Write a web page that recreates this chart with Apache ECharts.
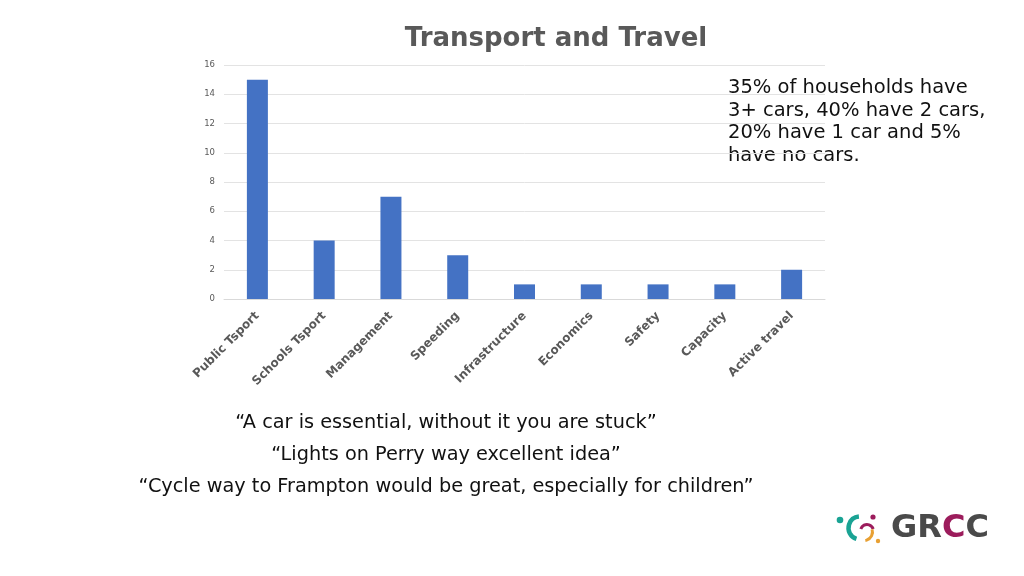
<!DOCTYPE html>
<html>
<head>
<meta charset="utf-8">
<script src="https://cdn.jsdelivr.net/npm/echarts@6/dist/echarts.min.js"></script>
<style>
  html, body { margin: 0; padding: 0; background: #fff; }
  #chart { width: 1024px; height: 576px; }
</style>
</head>
<body>
<div id="chart"></div>
<script>
// chart data
const categories = ['Public Tsport', 'Schools Tsport', 'Management', 'Speeding', 'Infrastructure', 'Economics', 'Safety', 'Capacity', 'Active travel']
const counts = [15, 4, 7, 3, 1, 1, 1, 1, 2]
const yTicks = [0, 2, 4, 6, 8, 10, 12, 14, 16]

const noteLines = ['35% of households have', '3+ cars, 40% have 2 cars,', '20% have 1 car and 5%', 'have no cars.']
const quotes = [
    '\u201CA car is essential, without it you are stuck\u201D',
    '\u201CLights on Perry way excellent idea\u201D',
    '\u201CCycle way to Frampton would be great, especially for children\u201D'
]

const chart = echarts.init(document.getElementById('chart'))

const option = {
    backgroundColor: '#ffffff',
    title: {
        text: 'Transport and Travel',
        left: 551,
        top: 21,
        textAlign: 'center',
        textStyle: { fontFamily: 'DejaVu Sans', fontWeight: 'bold', fontSize: 26, color: '#595959' }
    },
    grid: { left: 224, right: 199, top: 65, bottom: 277, containLabel: false },
    xAxis: {
        type: 'category',
        data: categories,
        axisLine: { lineStyle: { color: '#d9d9d9' } },
        axisTick: { show: false },
        axisLabel: {
            rotate: 45,
            interval: 0,
            margin: 15,
            fontFamily: 'DejaVu Sans',
            fontWeight: 'bold',
            fontSize: 12,
            color: '#595959'
        }
    },
    yAxis: {
        type: 'value',
        min: yTicks[0],
        max: yTicks[yTicks.length - 1],
        interval: 2,
        axisLine: { show: false },
        axisTick: { show: false },
        axisLabel: { fontFamily: 'DejaVu Sans', fontSize: 8.5, color: '#595959', margin: 9 },
        splitLine: { lineStyle: { color: '#e3e3e3' } }
    },
    series: [{
        type: 'bar',
        data: counts,
        barWidth: 21,
        itemStyle: { color: '#4472c4' }
    }],
    graphic: [
        {
            type: 'text',
            left: 728,
            top: 77,
            style: {
                text: noteLines.join('\n'),
                font: '19.5px "DejaVu Sans"',
                lineHeight: 22.5,
                fill: '#111'
            }
        },
        ...quotes.map((q, i) => ({
            type: 'text',
            x: 446,
            y: 423 + i * 32,
            style: {
                text: q,
                font: '19.3px "DejaVu Sans"',
                fill: '#111',
                align: 'center',
                verticalAlign: 'middle'
            }
        })),
        // GRCC logo
        {
            type: 'group',
            children: [
                { type: 'circle', shape: { cx: 840, cy: 520, r: 3.3 }, style: { fill: '#1aa394' } },
                { type: 'arc', shape: { cx: 860, cy: 528, r: 11.5, startAngle: Math.PI * 0.6, endAngle: Math.PI * 1.47 }, style: { stroke: '#1aa394', lineWidth: 4.5, fill: null } },
                { type: 'circle', shape: { cx: 873, cy: 517, r: 2.6 }, style: { fill: '#9c1c5c' } },
                { type: 'arc', shape: { cx: 867, cy: 531, r: 6.5, startAngle: Math.PI * 1.1, endAngle: Math.PI * 1.9 }, style: { stroke: '#9c1c5c', lineWidth: 3, fill: null } },
                { type: 'arc', shape: { cx: 864, cy: 532, r: 8.5, startAngle: Math.PI * 1.9, endAngle: Math.PI * 2.45 }, style: { stroke: '#e8a033', lineWidth: 3, fill: null } },
                { type: 'circle', shape: { cx: 878, cy: 541, r: 2.2 }, style: { fill: '#e8a033' } },
                {
                    type: 'text', x: 891, y: 529,
                    style: {
                        rich: {
                            g: { font: 'bold 32px "DejaVu Sans"', fill: '#4a4a4a' },
                            m: { font: 'bold 32px "DejaVu Sans"', fill: '#9c1c5c' }
                        },
                        text: '{g|GR}{m|C}{g|C}',
                        verticalAlign: 'middle'
                    }
                }
            ]
        }
    ]
}

chart.setOption(option)
window.addEventListener('resize', () => chart.resize())
</script>
</body>
</html>
